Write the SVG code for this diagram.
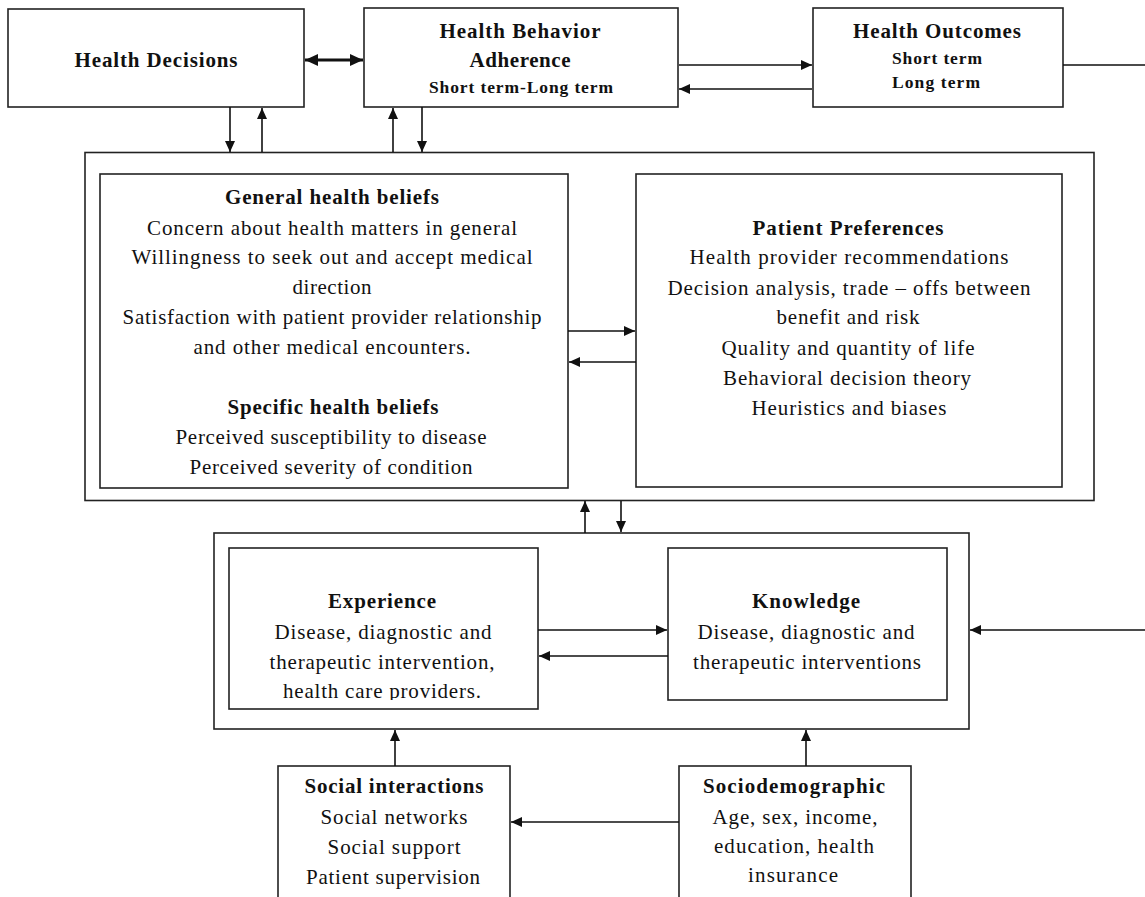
<svg xmlns="http://www.w3.org/2000/svg" width="1145" height="897" viewBox="0 0 1145 897">
<style>
.box{fill:#fff;stroke:#222;stroke-width:1.6}
.ln{fill:none;stroke:#111;stroke-width:1.6}
.thick{fill:none;stroke:#111;stroke-width:2.8}
text{font-family:"Liberation Serif","Times New Roman",serif;fill:#111;text-anchor:middle}
.b{font-weight:bold;font-size:21px}
.r{font-size:21px}
.s{font-weight:bold;font-size:17.5px}
</style>
<defs>
<marker id="ah" markerUnits="userSpaceOnUse" markerWidth="11" markerHeight="10" refX="11" refY="5" orient="auto-start-reverse">
<path d="M0,0 L11,5 L0,10 z" fill="#111"/>
</marker>
<marker id="ahb" markerUnits="userSpaceOnUse" markerWidth="13" markerHeight="12" refX="13" refY="6" orient="auto-start-reverse">
<path d="M0,0 L13,6 L0,12 z" fill="#111"/>
</marker>
<clipPath id="expclip"><rect x="229" y="548" width="309" height="152"/></clipPath>
</defs>
<rect width="1145" height="897" fill="#fff"/>

<g id="outer-beliefs"><rect class="box" x="85" y="152.5" width="1009" height="348"/></g>
<g id="outer-experience"><rect class="box" x="214" y="533" width="755" height="196"/></g>

<g id="health-decisions">
<rect class="box" x="8" y="9" width="296" height="98"/>
<text class="b" x="156" y="67" textLength="163" lengthAdjust="spacing">Health Decisions</text>
</g>

<g id="health-behavior">
<rect class="box" x="364" y="8" width="314" height="99"/>
<text class="b" x="520" y="38" textLength="161" lengthAdjust="spacing">Health Behavior</text>
<text class="b" x="520" y="67" textLength="101" lengthAdjust="spacing">Adherence</text>
<text class="s" x="521" y="93" textLength="184" lengthAdjust="spacing">Short term-Long term</text>
</g>

<g id="health-outcomes">
<rect class="box" x="813" y="8" width="250" height="99"/>
<text class="b" x="937" y="38" textLength="168" lengthAdjust="spacing">Health Outcomes</text>
<text class="s" x="937" y="64" textLength="90" lengthAdjust="spacing">Short term</text>
<text class="s" x="936" y="88" textLength="88" lengthAdjust="spacing">Long term</text>
</g>

<g id="general-health-beliefs">
<rect class="box" x="100" y="174" width="468" height="314"/>
<text class="b" x="332" y="204" textLength="214" lengthAdjust="spacing">General health beliefs</text>
<text class="r" x="332" y="235" textLength="370" lengthAdjust="spacing">Concern about health matters in general</text>
<text class="r" x="332" y="264" textLength="401" lengthAdjust="spacing">Willingness  to seek out and accept medical</text>
<text class="r" x="332" y="294" textLength="79" lengthAdjust="spacing">direction</text>
<text class="r" x="332" y="324" textLength="419" lengthAdjust="spacing">Satisfaction with patient provider relationship</text>
<text class="r" x="332" y="354" textLength="277" lengthAdjust="spacing">and other medical encounters.</text>
<text class="b" x="333" y="414" textLength="211" lengthAdjust="spacing">Specific health beliefs</text>
<text class="r" x="331" y="444" textLength="311" lengthAdjust="spacing">Perceived susceptibility to disease</text>
<text class="r" x="331" y="474" textLength="283" lengthAdjust="spacing">Perceived severity of condition</text>
</g>

<g id="patient-preferences">
<rect class="box" x="636" y="174" width="426" height="313"/>
<text class="b" x="848" y="235" textLength="191" lengthAdjust="spacing">Patient Preferences</text>
<text class="r" x="849" y="264" textLength="319" lengthAdjust="spacing">Health provider recommendations</text>
<text class="r" x="849" y="295" textLength="363" lengthAdjust="spacing">Decision  analysis, trade – offs between</text>
<text class="r" x="848" y="324" textLength="143" lengthAdjust="spacing">benefit and risk</text>
<text class="r" x="848" y="355" textLength="253" lengthAdjust="spacing">Quality and quantity of life</text>
<text class="r" x="847" y="385" textLength="248" lengthAdjust="spacing">Behavioral decision theory</text>
<text class="r" x="849" y="415" textLength="195" lengthAdjust="spacing">Heuristics and biases</text>
</g>

<g id="experience">
<rect class="box" x="229" y="548" width="309" height="161"/>
<text class="b" x="382" y="608" textLength="108" lengthAdjust="spacing">Experience</text>
<text class="r" x="383" y="639" textLength="217" lengthAdjust="spacing">Disease, diagnostic and</text>
<text class="r" x="382" y="669" textLength="225" lengthAdjust="spacing">therapeutic intervention,</text>
<text class="r" x="382" y="698" textLength="198" lengthAdjust="spacing" clip-path="url(#expclip)">health care providers.</text>
</g>

<g id="knowledge">
<rect class="box" x="668" y="548" width="279" height="152"/>
<text class="b" x="806" y="608" textLength="108" lengthAdjust="spacing">Knowledge</text>
<text class="r" x="806" y="639" textLength="217" lengthAdjust="spacing">Disease, diagnostic and</text>
<text class="r" x="807" y="669" textLength="228" lengthAdjust="spacing">therapeutic interventions</text>
</g>

<g id="social-interactions">
<rect class="box" x="278" y="766" width="232" height="145"/>
<text class="b" x="394" y="793" textLength="179" lengthAdjust="spacing">Social interactions</text>
<text class="r" x="394" y="824" textLength="147" lengthAdjust="spacing">Social networks</text>
<text class="r" x="394" y="854" textLength="133" lengthAdjust="spacing">Social support</text>
<text class="r" x="393" y="884" textLength="174" lengthAdjust="spacing">Patient supervision</text>
</g>

<g id="sociodemographic">
<rect class="box" x="679" y="766" width="232" height="145"/>
<text class="b" x="794" y="793" textLength="182" lengthAdjust="spacing">Sociodemographic</text>
<text class="r" x="795" y="824" textLength="165" lengthAdjust="spacing">Age, sex, income,</text>
<text class="r" x="794" y="853" textLength="160" lengthAdjust="spacing">education, health</text>
<text class="r" x="793" y="882" textLength="90" lengthAdjust="spacing">insurance</text>
</g>

<g id="connectors">
<line class="thick" x1="305" y1="60" x2="363" y2="60" marker-start="url(#ahb)" marker-end="url(#ahb)"/>
<line class="ln" x1="679" y1="65" x2="812" y2="65" marker-end="url(#ah)"/>
<line class="ln" x1="812" y1="89" x2="679" y2="89" marker-end="url(#ah)"/>
<path class="ln" d="M1063,65 H1152 V630 H970" marker-end="url(#ah)"/>
<line class="ln" x1="230" y1="107" x2="230" y2="152" marker-end="url(#ah)"/>
<line class="ln" x1="262" y1="152" x2="262" y2="108" marker-end="url(#ah)"/>
<line class="ln" x1="393" y1="152" x2="393" y2="108" marker-end="url(#ah)"/>
<line class="ln" x1="422" y1="107" x2="422" y2="152" marker-end="url(#ah)"/>
<line class="ln" x1="568" y1="331" x2="635" y2="331" marker-end="url(#ah)"/>
<line class="ln" x1="636" y1="362" x2="569" y2="362" marker-end="url(#ah)"/>
<line class="ln" x1="585" y1="533" x2="585" y2="501" marker-end="url(#ah)"/>
<line class="ln" x1="621" y1="501" x2="621" y2="532" marker-end="url(#ah)"/>
<line class="ln" x1="538" y1="630" x2="667" y2="630" marker-end="url(#ah)"/>
<line class="ln" x1="668" y1="656" x2="539" y2="656" marker-end="url(#ah)"/>
<line class="ln" x1="395" y1="766" x2="395" y2="730" marker-end="url(#ah)"/>
<line class="ln" x1="806" y1="766" x2="806" y2="730" marker-end="url(#ah)"/>
<line class="ln" x1="679" y1="822" x2="511" y2="822" marker-end="url(#ah)"/>
</g>
</svg>
